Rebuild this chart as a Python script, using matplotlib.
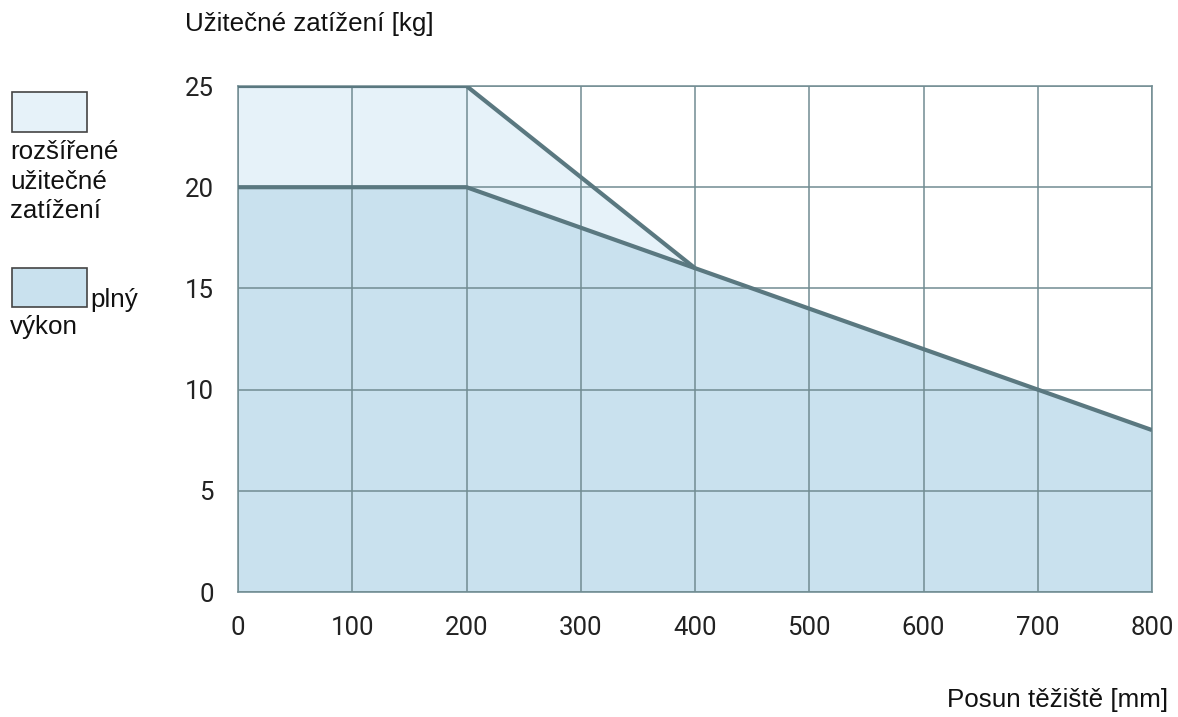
import matplotlib
matplotlib.use("Agg")
import matplotlib.pyplot as plt
from matplotlib.patches import Rectangle

# Data
ext_x = [0, 200, 400]
ext_y = [25, 25, 16]
full_x = [0, 200, 400, 500, 600, 700, 800]
full_y = [20, 20, 16, 14, 12, 10, 8]
x_ticks = [0, 100, 200, 300, 400, 500, 600, 700, 800]
y_ticks = [0, 5, 10, 15, 20, 25]
legend_labels = ["rozšířené\nužitečné\nzatížení", "plný"]
y_label = "Užitečné zatížení [kg]"
x_label = "Posun těžiště [mm]"

light = "#e6f2f9"
dark = "#c9e1ee"
line_c = "#5a7880"
grid_c = "#718c92"

fig = plt.figure(figsize=(11.78, 7.17), dpi=100)
ax = fig.add_axes([238/1178, 1-592/717, (1152-238)/1178, (592-86)/717])

ext_full_x = [0, 200, 400, 500, 600, 700, 800]
ext_full_y = [25, 25, 16, 14, 12, 10, 8]
ax.fill_between(ext_full_x, 0, ext_full_y, color=light, zorder=1, linewidth=0)
ax.fill_between(full_x, 0, full_y, color=dark, zorder=1.5, linewidth=0)

ax.set_xlim(0, 800)
ax.set_ylim(0, 25)
ax.set_xticks(x_ticks)
ax.set_yticks(y_ticks)
ax.grid(True, color=grid_c, linewidth=1.1, zorder=2)
ax.set_axisbelow(False)
for s in ax.spines.values():
    s.set_color(grid_c)
    s.set_linewidth(1.1)
    s.set_zorder(2)

ax.plot(ext_x, ext_y, color=line_c, linewidth=3, zorder=3, solid_capstyle="butt")
ax.plot(full_x, full_y, color=line_c, linewidth=3, zorder=3, solid_capstyle="butt")

ax.tick_params(length=0, labelsize=18.5, colors="#222222")
for lab in ax.get_xticklabels() + ax.get_yticklabels():
    lab.set_fontfamily("Roboto")
ax.tick_params(axis="y", pad=17.5)
ax.tick_params(axis="x", pad=17)

tf = dict(fontfamily="Liberation Sans", fontsize=18.7, color="#111111")
fig.text(185/1178, 1-24/717, y_label, va="center", ha="left", **tf)
fig.text(1168/1178, 1-700/717, x_label, va="center", ha="right", **tf)

# legend
fig.patches.append(Rectangle((12/1178, 1-132/717), 75/1178, 40/717, transform=fig.transFigure,
                             facecolor=light, edgecolor="#444444", linewidth=1.2))
fig.patches.append(Rectangle((12/1178, 1-307/717), 75/1178, 39/717, transform=fig.transFigure,
                             facecolor=dark, edgecolor="#444444", linewidth=1.2))
fig.text(10/1178, 1-140/717, legend_labels[0], va="top", ha="left", linespacing=1.3, **tf)
fig.text(90/1178, 1-307/717, legend_labels[1], va="baseline", ha="left", **tf)
fig.text(10/1178, 1-334/717, "výkon", va="baseline", ha="left", **tf)

fig.savefig("out.png", dpi=100)
